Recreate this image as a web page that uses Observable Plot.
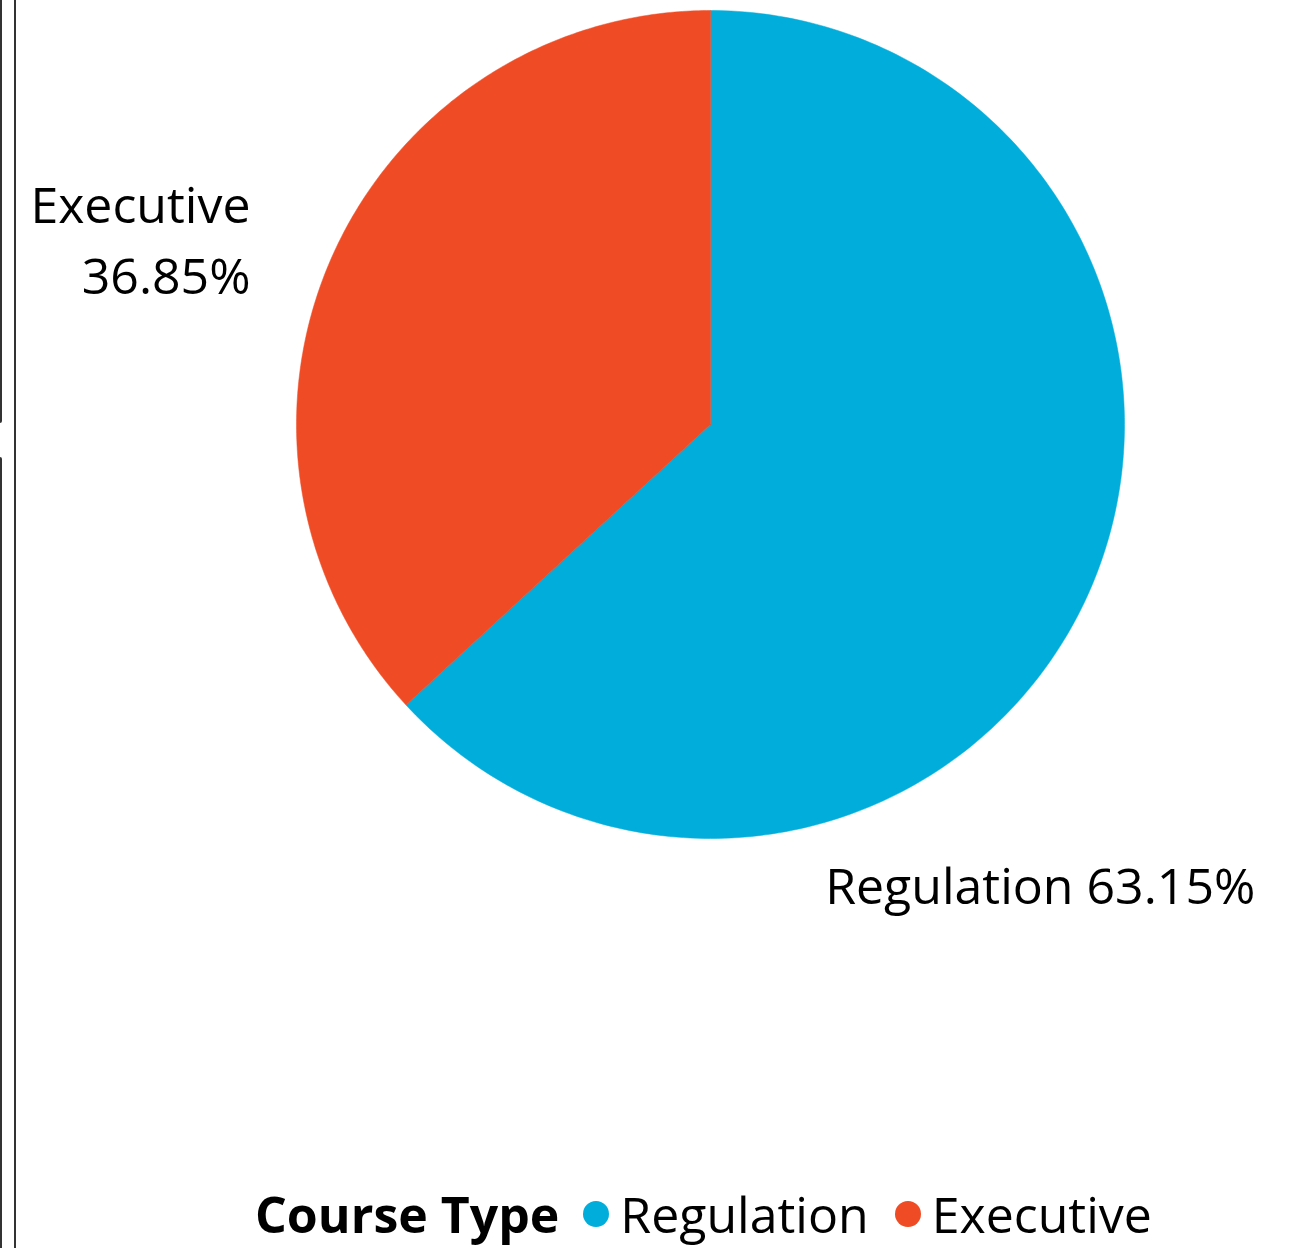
<!DOCTYPE html>
<html>
<head>
<meta charset="utf-8">
<script src="https://cdn.jsdelivr.net/npm/d3@7"></script>
<script src="https://cdn.jsdelivr.net/npm/@observablehq/plot@0.6"></script>
<style>
  html, body { margin: 0; padding: 0; background: #fff; }
  body { width: 1306px; height: 1248px; position: relative; overflow: hidden; font-family: "Segoe UI", "Open Sans", sans-serif; }
  #chart { position: absolute; left: 0; top: 0; }
  .rail { position: absolute; background: #333; }
  #legend { position: absolute; left: 255px; top: 1182px; height: 64px; display: flex; align-items: center; font-size: 50px; color: #000; white-space: nowrap; }
  #legend .title { font-weight: 700; margin-right: 24px; }
  #legend .dot { width: 26px; height: 26px; border-radius: 50%; display: inline-block; margin-right: 11px; }
  #legend .item { display: flex; align-items: center; margin-right: 26px; }
</style>
</head>
<body>
<div class="rail" style="left:0;top:0;width:2px;height:423px;border-bottom-right-radius:6px;"></div>
<div class="rail" style="left:0;top:457px;width:2px;height:791px;border-top-right-radius:6px;"></div>
<div class="rail" style="left:14px;top:0;width:2px;height:1248px;"></div>
<div id="chart"></div>
<div id="legend"></div>
<script>
// ---- data ----
const categories = ["Regulation", "Executive"];
const shares = [63.15, 36.85];
const colors = ["#00ADDB", "#EF4B24"];
const labelTexts = ["Regulation 63.15%", "Executive\n36.85%"];
const legendTitle = "Course Type";

// ---- pie geometry (angles derived from shares) ----
const pie = d3.pie().sort(null).value(d => d.share)(categories.map((c, i) => ({cat: c, share: shares[i]})));
const outline = [];
for (const a of pie) {
  const n = 240;
  outline.push({cat: a.data.cat, x: 0, y: 0});
  for (let k = 0; k <= n; k++) {
    const t = a.startAngle + (a.endAngle - a.startAngle) * k / n;
    outline.push({cat: a.data.cat, x: Math.sin(t), y: Math.cos(t)});
  }
  outline.push({cat: a.data.cat, x: 0, y: 0});
}

// label placement (layout, in unit-circle coordinates)
const labelLayout = {
  Regulation: {x: 1.316, y: -1.104},
  Executive: {x: -1.111, y: 0.457}
};
const labels = categories.map((c, i) => ({cat: c, text: labelTexts[i], ...labelLayout[c]}));

const chart = Plot.plot({
  width: 1306,
  height: 1180,
  marginLeft: 296,
  marginRight: 182,
  marginTop: 10,
  marginBottom: 342,
  x: {domain: [-1, 1], axis: null},
  y: {domain: [-1, 1], axis: null},
  color: {domain: categories, range: colors},
  style: {fontFamily: '"Segoe UI", "Open Sans", sans-serif', background: "transparent", overflow: "visible"},
  marks: [
    Plot.line(outline, {x: "x", y: "y", z: "cat", fill: "cat", stroke: "cat", strokeWidth: 0.5}),
    Plot.text(labels, {x: "x", y: "y", text: "text", textAnchor: "end", lineAnchor: "middle", lineHeight: 1.42, fontSize: 50, fill: "#000"})
  ]
});
document.getElementById("chart").append(chart);

const legend = document.getElementById("legend");
const title = document.createElement("span");
title.className = "title";
title.textContent = legendTitle;
legend.append(title);
categories.forEach((c, i) => {
  const item = document.createElement("span");
  item.className = "item";
  const dot = document.createElement("span");
  dot.className = "dot";
  dot.style.background = colors[i];
  const t = document.createElement("span");
  t.textContent = c;
  item.append(dot, t);
  legend.append(item);
});
</script>
</body>
</html>
